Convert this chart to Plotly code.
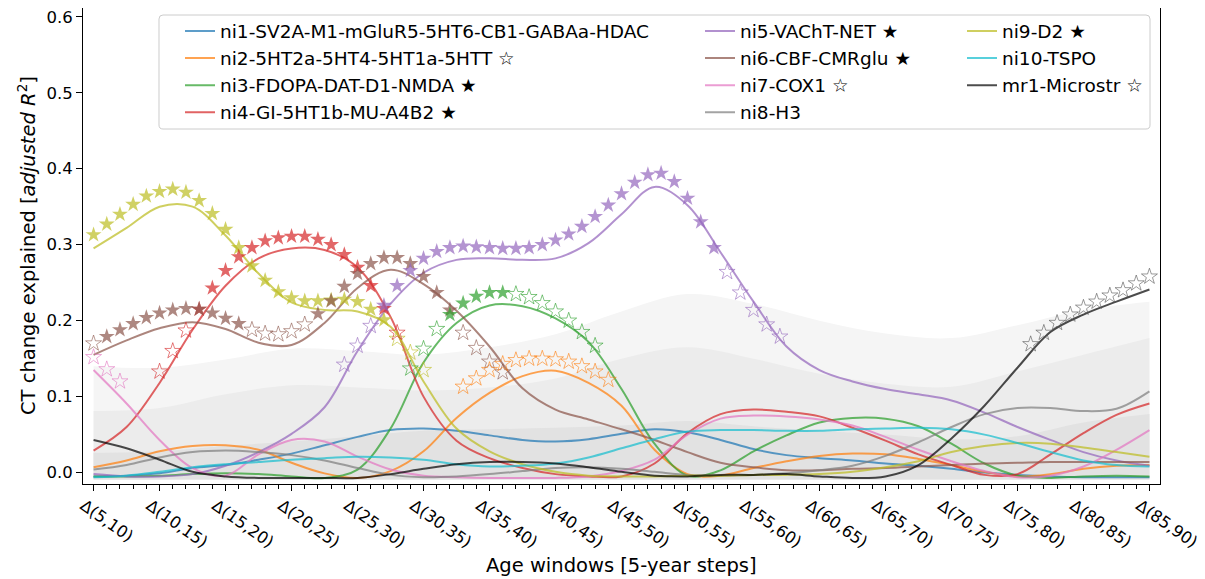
import plotly.graph_objects as go

# ---------------- data ----------------
years = [5, 7.5, 10, 12.5, 15, 17.5, 20, 22.5, 25, 27.5, 30, 32.5, 35, 37.5, 40, 42.5,
         45, 47.5, 50, 52.5, 55, 57.5, 60, 62.5, 65, 67.5, 70, 72.5, 75, 77.5, 80, 82.5, 85]
tick_vals = [5, 10, 15, 20, 25, 30, 35, 40, 45, 50, 55, 60, 65, 70, 75, 80, 85]
tick_text = ["Δ(5,10)", "Δ(10,15)", "Δ(15,20)", "Δ(20,25)", "Δ(25,30)", "Δ(30,35)",
             "Δ(35,40)", "Δ(40,45)", "Δ(45,50)", "Δ(50,55)", "Δ(55,60)", "Δ(60,65)",
             "Δ(65,70)", "Δ(70,75)", "Δ(75,80)", "Δ(80,85)", "Δ(85,90)"]
minor_vals = list(range(5, 86))

ni1 = [-0.005, -0.004, -0.001, 0.006, 0.010, 0.017, 0.025, 0.036, 0.047, 0.056, 0.058, 0.055, 0.049,
       0.043, 0.041, 0.044, 0.051, 0.057, 0.053, 0.043, 0.031, 0.023, 0.019, 0.016, 0.012, 0.009,
       0.005, 0.000, -0.003, -0.005, -0.006, -0.006, -0.006]
ni2 = [0.007, 0.016, 0.028, 0.035, 0.036, 0.030, 0.013, -0.001, -0.007, 0.002, 0.028, 0.072, 0.105,
       0.127, 0.134, 0.118, 0.088, 0.030, -0.002, -0.004, 0.006, 0.015, 0.022, 0.025, 0.024, 0.018,
       0.010, 0.001, -0.005, -0.002, 0.005, 0.009, 0.010]
ni3 = [-0.005, -0.005, -0.004, -0.002, -0.001, -0.002, -0.005, -0.007, 0.004, 0.058, 0.145, 0.197,
       0.220, 0.219, 0.203, 0.172, 0.110, 0.038, -0.004, 0.003, 0.028, 0.049, 0.066, 0.072, 0.071,
       0.061, 0.038, 0.012, -0.004, -0.007, -0.005, -0.004, -0.005]
ni4 = [0.029, 0.060, 0.118, 0.188, 0.246, 0.282, 0.295, 0.293, 0.270, 0.205, 0.100, 0.042, 0.019,
       0.006, -0.002, -0.005, -0.005, 0.012, 0.052, 0.077, 0.083, 0.080, 0.074, 0.059, 0.042, 0.024,
       0.010, -0.003, -0.002, 0.024, 0.052, 0.076, 0.091]
ni5 = [-0.002, -0.005, -0.005, -0.002, 0.009, 0.027, 0.051, 0.086, 0.160, 0.222, 0.263, 0.280, 0.282,
       0.280, 0.282, 0.302, 0.340, 0.376, 0.352, 0.290, 0.225, 0.166, 0.135, 0.120, 0.110, 0.103,
       0.095, 0.079, 0.060, 0.043, 0.027, 0.016, 0.009]
ni6 = [0.155, 0.174, 0.190, 0.198, 0.189, 0.171, 0.168, 0.197, 0.243, 0.267, 0.248, 0.213, 0.166,
       0.111, 0.083, 0.070, 0.057, 0.043, 0.027, 0.013, 0.007, 0.003, 0.003, 0.005, 0.006, 0.008,
       0.010, 0.012, 0.013, 0.014, 0.014, 0.014, 0.014]
ni7 = [0.135, 0.091, 0.043, 0.006, -0.004, 0.024, 0.043, 0.041, 0.021, 0.004, -0.004, -0.006, -0.007,
       -0.007, -0.007, -0.005, 0.002, 0.017, 0.050, 0.071, 0.075, 0.074, 0.070, 0.062, 0.047, 0.030,
       0.015, 0.002, -0.006, -0.004, 0.008, 0.030, 0.056]
ni8 = [0.004, 0.010, 0.020, 0.027, 0.029, 0.027, 0.023, 0.016, 0.006, -0.003, -0.006, -0.005, -0.002,
       0.002, 0.006, 0.007, 0.005, 0.001, -0.003, -0.004, -0.003, -0.001, 0.003, 0.009, 0.022, 0.040,
       0.060, 0.077, 0.085, 0.085, 0.081, 0.084, 0.107]
ni9 = [0.295, 0.322, 0.350, 0.350, 0.312, 0.262, 0.224, 0.214, 0.212, 0.192, 0.120, 0.058, 0.028,
       0.011, 0.001, -0.004, -0.005, -0.005, -0.004, -0.004, -0.003, -0.003, -0.002, 0.001, 0.007,
       0.015, 0.027, 0.035, 0.039, 0.038, 0.033, 0.027, 0.021]
ni10 = [-0.006, -0.004, 0.001, 0.007, 0.011, 0.014, 0.017, 0.019, 0.021, 0.020, 0.017, 0.011, 0.008,
        0.009, 0.012, 0.020, 0.032, 0.044, 0.054, 0.056, 0.056, 0.055, 0.055, 0.057, 0.058, 0.059,
        0.057, 0.050, 0.039, 0.027, 0.016, 0.010, 0.008]
mr1 = [0.043, 0.032, 0.017, 0.001, -0.005, -0.007, -0.007, -0.007, -0.007, -0.002, 0.005, 0.011, 0.014,
       0.014, 0.012, 0.007, 0.001, -0.004, -0.005, -0.003, -0.003, -0.002, -0.005, -0.007, -0.005,
       0.010, 0.045, 0.088, 0.138, 0.185, 0.208, 0.225, 0.241]

# null-distribution bands (at the 17 window positions)
band_floor = [-0.009, -0.009, -0.009, -0.009, -0.009, -0.009, -0.009, -0.009, -0.009,
              -0.009, -0.009, -0.009, -0.009, -0.009, -0.009, -0.009, -0.009]
band_outer = [0.140, 0.138, 0.149, 0.163, 0.160, 0.155, 0.165, 0.182, 0.212, 0.235, 0.222, 0.200,
              0.183, 0.177, 0.194, 0.214, 0.225]
band_mid = [0.081, 0.085, 0.103, 0.115, 0.112, 0.108, 0.112, 0.124, 0.150, 0.165, 0.150, 0.130,
            0.117, 0.113, 0.133, 0.155, 0.177]
band_inner = [0.026, 0.028, 0.035, 0.041, 0.048, 0.055, 0.057, 0.059, 0.062, 0.068, 0.061, 0.055,
              0.050, 0.044, 0.048, 0.066, 0.077]

# significance stars (x = window start, y = marker height)
ni9_star_x = [5, 6, 7, 8, 9, 10, 11, 12, 13, 14, 15, 16, 17, 18, 19, 20, 21, 22, 23, 24, 25, 26, 27]
ni9_star_y = [0.313, 0.327, 0.340, 0.353, 0.364, 0.370, 0.373, 0.369, 0.358, 0.341, 0.320, 0.296,
              0.272, 0.253, 0.238, 0.230, 0.226, 0.226, 0.227, 0.228, 0.225, 0.215, 0.201]
ni9_open_x = [28, 29, 30]
ni9_open_y = [0.176, 0.158, 0.135]

ni4_star_x = [13, 14, 15, 16, 17, 18, 19, 20, 21, 22, 23, 24, 25, 26, 27]
ni4_star_y = [0.215, 0.243, 0.266, 0.284, 0.296, 0.305, 0.309, 0.311, 0.311, 0.307, 0.300, 0.287,
              0.270, 0.246, 0.216]
ni4_open_x = [10, 11, 12, 28]
ni4_open_y = [0.133, 0.160, 0.187, 0.184]

ni6_star_x = [6, 7, 8, 9, 10, 11, 12, 13, 14, 15, 16, 22, 23, 24, 25, 26, 27, 28, 29, 30, 31, 32]
ni6_star_y = [0.179, 0.188, 0.196, 0.204, 0.210, 0.214, 0.216, 0.215, 0.210, 0.203, 0.196,
              0.209, 0.226, 0.245, 0.262, 0.275, 0.283, 0.283, 0.275, 0.258, 0.237, 0.214]
ni6_open_x = [5, 17, 18, 19, 20, 21, 33, 34, 35, 36]
ni6_open_y = [0.170, 0.188, 0.183, 0.182, 0.186, 0.195, 0.184, 0.164, 0.146, 0.132]

ni5_star_x = [27, 28, 29, 30, 31, 32, 33, 34, 35, 36, 37, 38, 39, 40, 41, 42, 43, 44, 45, 46, 47,
              48, 49, 50, 51, 52]
ni5_star_y = [0.220, 0.246, 0.266, 0.282, 0.291, 0.296, 0.298, 0.297, 0.296, 0.295, 0.295, 0.296,
              0.300, 0.306, 0.314, 0.324, 0.337, 0.352, 0.367, 0.382, 0.392, 0.394, 0.383, 0.361,
              0.330, 0.296]
ni5_open_x = [24, 25, 26, 53, 54, 55, 56, 57]
ni5_open_y = [0.142, 0.167, 0.193, 0.264, 0.237, 0.214, 0.195, 0.179]

ni3_star_x = [32, 33, 34, 35, 36]
ni3_star_y = [0.208, 0.223, 0.232, 0.237, 0.237]
ni3_open_x = [29, 30, 31, 37, 38, 39, 40, 41, 42, 43]
ni3_open_y = [0.137, 0.163, 0.189, 0.235, 0.231, 0.223, 0.212, 0.200, 0.185, 0.167]

ni2_open_x = [33, 34, 35, 36, 37, 38, 39, 40, 41, 42, 43, 44]
ni2_open_y = [0.113, 0.124, 0.135, 0.143, 0.148, 0.150, 0.150, 0.149, 0.146, 0.140, 0.133, 0.122]

ni7_open_x = [5, 6, 7]
ni7_open_y = [0.152, 0.136, 0.120]

mr1_open_x = [76, 77, 78, 79, 80, 81, 82, 83, 84, 85]
mr1_open_y = [0.169, 0.184, 0.197, 0.208, 0.217, 0.225, 0.233, 0.240, 0.249, 0.258]

labels = ["ni1-SV2A-M1-mGluR5-5HT6-CB1-GABAa-HDAC", "ni2-5HT2a-5HT4-5HT1a-5HTT ☆",
          "ni3-FDOPA-DAT-D1-NMDA ★", "ni4-GI-5HT1b-MU-A4B2 ★", "ni5-VAChT-NET ★",
          "ni6-CBF-CMRglu ★", "ni7-COX1 ☆", "ni8-H3", "ni9-D2 ★", "ni10-TSPO", "mr1-Microstr ☆"]
colors = ["#1f77b4", "#ff7f0e", "#2ca02c", "#d62728", "#9467bd", "#8c564b", "#e377c2",
          "#7f7f7f", "#bcbd22", "#17becf", "#000000"]


def rgba(h, a):
    h = h.lstrip("#")
    return "rgba(%d,%d,%d,%.2f)" % (int(h[0:2], 16), int(h[2:4], 16), int(h[4:6], 16), a)


FONT = "DejaVu Sans"
fig = go.Figure()

# bands
for top, col in [(band_outer, "#f5f5f5"), (band_mid, "#ececec"), (band_inner, "#e2e2e2")]:
    fig.add_trace(go.Scatter(x=tick_vals, y=band_floor, mode="lines",
                             line=dict(width=0, shape="spline"), showlegend=False, hoverinfo="skip"))
    fig.add_trace(go.Scatter(x=tick_vals, y=top, mode="lines", fill="tonexty", fillcolor=col,
                             line=dict(width=0, shape="spline"), showlegend=False, hoverinfo="skip"))

series = [ni1, ni2, ni3, ni4, ni5, ni6, ni7, ni8, ni9, ni10, mr1]
legend_of = ["legend"] * 4 + ["legend2"] * 4 + ["legend3"] * 3
for vals, lab, col, lg in zip(series, labels, colors, legend_of):
    a = 0.72 if col != "#000000" else 0.7
    fig.add_trace(go.Scatter(x=years, y=vals, mode="lines", name=lab, legend=lg,
                             line=dict(color=rgba(col, a), width=2, shape="spline", smoothing=1)))

stars_filled = [(ni9_star_x, ni9_star_y, colors[8]), (ni4_star_x, ni4_star_y, colors[3]),
                (ni6_star_x, ni6_star_y, colors[5]), (ni5_star_x, ni5_star_y, colors[4]),
                (ni3_star_x, ni3_star_y, colors[2])]
stars_open = [(ni9_open_x, ni9_open_y, colors[8]), (ni4_open_x, ni4_open_y, colors[3]),
              (ni6_open_x, ni6_open_y, colors[5]), (ni5_open_x, ni5_open_y, colors[4]),
              (ni3_open_x, ni3_open_y, colors[2]), (ni2_open_x, ni2_open_y, colors[1]),
              (ni7_open_x, ni7_open_y, colors[6]), (mr1_open_x, mr1_open_y, "#555555")]
for sx, sy, col in stars_open:
    fig.add_trace(go.Scatter(x=sx, y=sy, mode="markers", showlegend=False, hoverinfo="skip",
                             marker=dict(symbol="star-open", size=12, color=rgba(col, 0.6),
                                         line=dict(width=1, color=rgba(col, 0.6)))))
for sx, sy, col in stars_filled:
    fig.add_trace(go.Scatter(x=sx, y=sy, mode="markers", showlegend=False, hoverinfo="skip",
                             marker=dict(symbol="star", size=12, color=rgba(col, 0.7),
                                         line=dict(width=0))))

# ---------------- layout (positions in screen pixels; page body adds an 8px offset) ----------------
OFF = 8
L, R, T, B = 83, 1160, 8, 484          # plot area on screen
W, H = 1205 - OFF, 579 - OFF          # figure size


def px(x):
    return (x - L) / (R - L)


def py(y):
    return (B - y) / (B - T)


leg_common = dict(yanchor="top", xanchor="left", bgcolor="rgba(0,0,0,0)", borderwidth=0,
                  traceorder="normal", font=dict(family=FONT, size=18.5, color="black"),
                  tracegroupgap=0)

x0, x1, y0, y1 = px(159), px(1150), py(129), py(15)
rx, ry = 4 / (R - L), 4 / (B - T)
frame = ("M %f,%f L %f,%f Q %f,%f %f,%f L %f,%f Q %f,%f %f,%f L %f,%f Q %f,%f %f,%f L %f,%f Q %f,%f %f,%f Z"
         % (x0 + rx, y1, x1 - rx, y1, x1, y1, x1, y1 - ry, x1, y0 + ry, x1, y0, x1 - rx, y0,
            x0 + rx, y0, x0, y0, x0, y0 + ry, x0, y1 - ry, x0, y1, x0 + rx, y1))

fig.update_layout(
    width=W, height=H,
    margin=dict(l=L - OFF, r=W - (R - OFF), t=T - OFF, b=H - (B - OFF), pad=0),
    plot_bgcolor="white", paper_bgcolor="white",
    font=dict(family=FONT, color="black"),
    showlegend=True,
    legend=dict(x=px(180), y=py(12.5), **leg_common),
    legend2=dict(x=px(700), y=py(12.5), **leg_common),
    legend3=dict(x=px(962), y=py(12.5), **leg_common),
    xaxis=dict(range=[4.2, 85.8], tickmode="array", tickvals=tick_vals, ticktext=tick_text,
               tickangle=35, ticks="outside", ticklen=6, tickwidth=1, tickcolor="black",
               ticklabeloverflow="allow", ticklabelshift=-10, ticklabelstandoff=-1,
               showline=True, linecolor="black", linewidth=1, mirror=True, showgrid=False,
               zeroline=False, tickfont=dict(family=FONT, size=16.3, color="black"),
               minor=dict(tickmode="array", tickvals=minor_vals, ticks="outside", ticklen=3.5,
                          tickwidth=1, tickcolor="black", showgrid=False)),
    yaxis=dict(range=[-0.015, 0.6115], tickmode="array",
               tickvals=[0, 0.1, 0.2, 0.3, 0.4, 0.5, 0.6], tickformat=".1f",
               ticklabeloverflow="allow",
               ticks="outside", ticklen=6, tickwidth=1, tickcolor="black",
               showline=True, linecolor="black", linewidth=1, mirror=True, showgrid=False,
               zeroline=False, tickfont=dict(family=FONT, size=16.5, color="black")),
    shapes=[dict(type="path", path=frame, xref="paper", yref="paper",
                 line=dict(color="#cccccc", width=1), fillcolor="rgba(255,255,255,0.8)",
                 layer="below")],
    annotations=[
        dict(text="Age windows [5-year steps]", x=0.5, y=py(565), xref="paper", yref="paper",
             showarrow=False, xanchor="center", yanchor="middle",
             font=dict(family=FONT, size=19.5, color="black")),
        dict(text="CT change explained [<i>adjusted R</i><sup>2</sup>]", x=px(27), y=0.5,
             xref="paper", yref="paper", showarrow=False, textangle=-90,
             xanchor="center", yanchor="middle", font=dict(family=FONT, size=19.5, color="black")),
    ],
)

fig.write_html("out.html")
